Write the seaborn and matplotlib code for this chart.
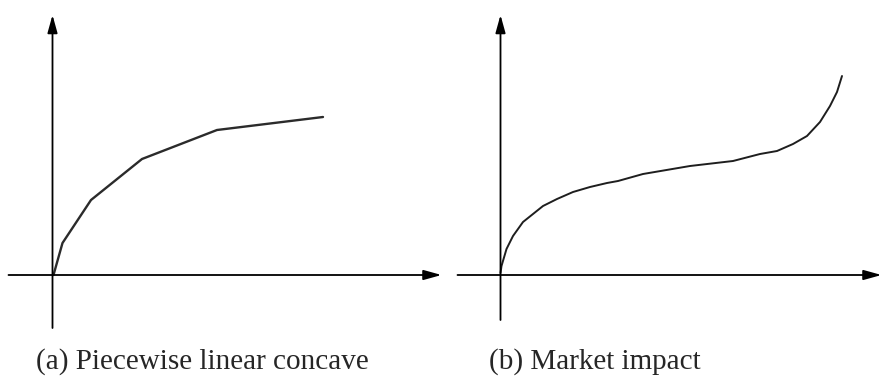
import matplotlib
matplotlib.use('Agg')
import matplotlib.pyplot as plt
import seaborn as sns

# (a) piecewise linear concave - breakpoints
concave_x = [1, 10, 38.5, 89.5, 164.5, 270.5]
concave_y = [0, 32, 75, 116, 145, 158]

# (b) market impact curve
impact_x = [0, 1, 6, 12.5, 22.5, 32.5, 42.5, 56.5, 72.5, 89.5, 106.5, 117.5, 142.5,
            189.5, 232.5, 259.5, 276.5, 292.5, 306.5, 319.5, 329.5, 336.5, 341.5]
impact_y = [2, 9, 26, 39, 53, 61, 69, 76, 83, 88, 92, 94, 101,
            109, 114, 121, 124, 131, 139, 153, 169, 183, 199]

captions = ['(a) Piecewise linear concave', '(b) Market impact']

sns.set_style('white')
plt.rcParams['font.family'] = ['Liberation Serif', 'DejaVu Serif']

fig = plt.figure(figsize=(8.82, 3.76), dpi=100)

# left panel, right panel (1 data unit = 1 pixel)
ax1 = fig.add_axes([0, 0, 0.5, 1])
ax1.set_xlim(-52.5, 388.5)
ax1.set_ylim(-101, 275)
ax2 = fig.add_axes([0.5, 0, 0.5, 1])
ax2.set_xlim(-59.5, 381.5)
ax2.set_ylim(-101, 275)

arrow = dict(arrowstyle='-|>,head_length=0.9,head_width=0.25', color='black',
             lw=1.3, mutation_scale=12, shrinkA=0, shrinkB=0)

for ax, x0, x1, ybot in [(ax1, -44, 389, -53), (ax2, -43, 381, -45)]:
    ax.annotate('', xy=(x1, 0), xytext=(x0, 0), arrowprops=arrow)
    ax.annotate('', xy=(0, 260), xytext=(0, ybot), arrowprops=arrow)
    ax.axis('off')

sns.lineplot(x=concave_x, y=concave_y, ax=ax1, color='#2b2b2b', lw=1.7,
             sort=False, estimator=None)
sns.lineplot(x=impact_x, y=impact_y, ax=ax2, color='#1e1e1e', lw=1.4,
             sort=False, estimator=None)

fig.text(36 / 882, 1 - 362 / 376, captions[0], fontsize=21, va='center', ha='left')
fig.text(489 / 882, 1 - 362 / 376, captions[1], fontsize=21, va='center', ha='left')

fig.savefig('out.png', dpi=100)
